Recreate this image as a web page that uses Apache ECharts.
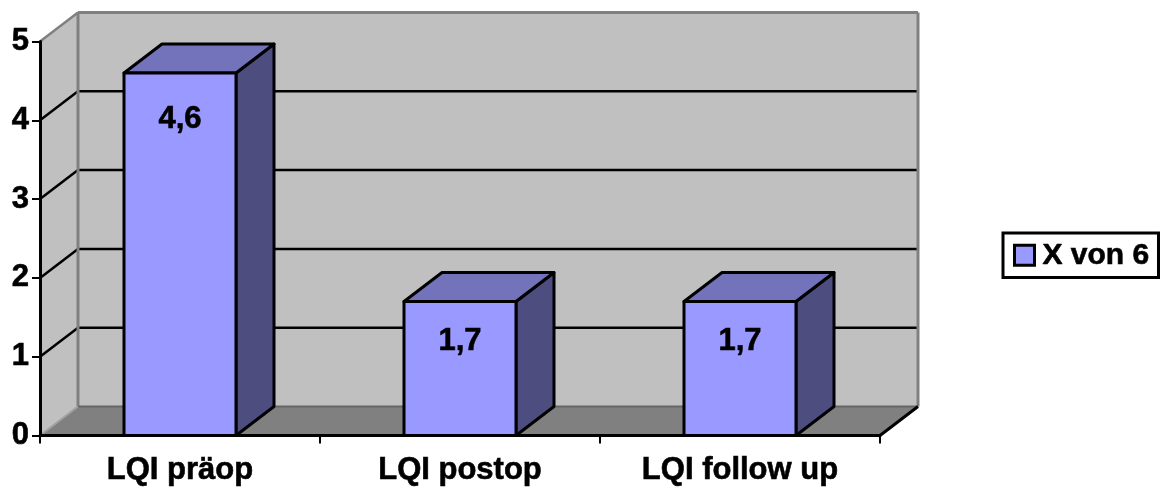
<!DOCTYPE html>
<html><head><meta charset="utf-8">
<style>html,body{margin:0;padding:0;background:#fff}#c{width:1169px;height:489px}</style>
<script src="https://cdn.jsdelivr.net/npm/echarts@6/dist/echarts.min.js"></script>
</head><body><div id="c"></div>
<script>
const categories = ['LQI präop', 'LQI postop', 'LQI follow up'];
const seriesName = 'X von 6';
const values = [4.6, 1.7, 1.7];
const yTicks = [0, 1, 2, 3, 4, 5];

const FONT = '"Liberation Sans", Arial, sans-serif';
const DX = 38, DY = -29;
const chart = echarts.init(document.getElementById('c'), null, {renderer: 'canvas'});
const heavy = {textBorderColor: '#000', textBorderWidth: 0.6};

function wallsItem(params, api) {
  const band = api.size([1, 0])[0];
  const c0 = api.coord([0, 0]);
  const top = api.coord([0, yTicks[yTicks.length - 1]])[1];
  const x0 = c0[0] - band / 2, y0 = c0[1];
  const x1 = x0 + band * categories.length;
  const poly = (points, fill) => ({type: 'polygon', shape: {points}, style: {fill, stroke: 'none'}});
  const line = (a, b, stroke, lineWidth) => ({
    type: 'line', shape: {x1: a[0], y1: a[1], x2: b[0], y2: b[1]}, style: {stroke, lineWidth}
  });
  const children = [
    poly([[x0 + DX, top + DY], [x1 + DX, top + DY], [x1 + DX, y0 + DY], [x0 + DX, y0 + DY]], '#c0c0c0'),
    poly([[x0, y0], [x0 + DX, y0 + DY], [x0 + DX, top + DY], [x0, top]], '#c0c0c0'),
    poly([[x0, y0], [x0 + DX, y0 + DY], [x1 + DX, y0 + DY], [x1, y0]], '#808080')
  ];
  yTicks.slice(1, -1).forEach(t => {
    const y = api.coord([0, t])[1];
    children.push(line([x0, y], [x0 + DX, y + DY], '#000', 2.5));
    children.push(line([x0 + DX, y + DY], [x1 + DX, y + DY], '#000', 2.5));
  });
  children.push(line([x0, top], [x0 + DX, top + DY], '#808080', 2.5));
  children.push(line([x0 + DX, top + DY], [x1 + DX, top + DY], '#808080', 3));
  children.push(line([x1 + DX, top + DY], [x1 + DX, y0 + DY], '#808080', 3));
  children.push(line([x0 + DX, top + DY], [x0 + DX, y0 + DY], '#808080', 3));
  children.push(line([x0 + DX, y0 + DY], [x1 + DX, y0 + DY], '#666666', 2));
  children.push(line([x0, y0], [x0 + DX, y0 + DY], '#a0a0a0', 2));
  children.push(line([x1, y0], [x1 + DX, y0 + DY], '#000', 3));
  return {type: 'group', children};
}

function barItem(params, api) {
  const band = api.size([1, 0])[0];
  const w = band / 2.5;
  const value = api.value(1);
  const c = api.coord([api.value(0), value]);
  const b = api.coord([api.value(0), 0]);
  const l = c[0] - w / 2, r = c[0] + w / 2, t = c[1], y0 = b[1];
  const st = fill => ({fill, stroke: '#000', lineWidth: 3, lineJoin: 'round'});
  return {type: 'group', children: [
    {type: 'polygon', shape: {points: [[r, t], [r + DX, t + DY], [r + DX, y0 + DY], [r, y0]]}, style: st('#4d4d80')},
    {type: 'polygon', shape: {points: [[l, t], [l + DX, t + DY], [r + DX, t + DY], [r, t]]}, style: st('#7373bb')},
    {type: 'rect', shape: {x: l, y: t, width: w, height: y0 - t}, style: st('#9999ff')},
    {type: 'text', x: c[0], y: t + 36 + 0.03 * (y0 - t), style: {
      text: String(value).replace('.', ','), fill: '#000', font: 'bold 31px ' + FONT,
      align: 'center', verticalAlign: 'middle', stroke: '#000', lineWidth: 0.6
    }}
  ]};
}

chart.setOption({
  animation: false,
  backgroundColor: '#fff',
  grid: {left: 40, right: 289, top: 41.5, bottom: 53.5, containLabel: false},
  legend: {
    data: [seriesName], left: 1003, top: 233, orient: 'horizontal',
    padding: [7, 9, 7, 10], itemWidth: 20, itemHeight: 20, itemGap: 0,
    icon: 'rect', borderColor: '#000', borderWidth: 3, backgroundColor: '#fff', borderRadius: 0,
    itemStyle: {borderColor: '#000', borderWidth: 3},
    textStyle: Object.assign({fontFamily: FONT, fontWeight: 'bold', fontSize: 30, color: '#000', padding: [0, 0, 0, 3]}, heavy)
  },
  xAxis: {
    type: 'category', data: categories, z: 10,
    axisLine: {lineStyle: {color: '#000', width: 3}},
    axisTick: {show: true, alignWithLabel: false, length: 8, lineStyle: {color: '#000', width: 2}},
    axisLabel: Object.assign({fontFamily: FONT, fontWeight: 'bold', fontSize: 31, color: '#000', margin: 19, interval: 0}, heavy),
    splitLine: {show: false}
  },
  yAxis: {
    type: 'value', min: 0, max: 5, interval: 1, z: 10,
    axisLine: {show: true, lineStyle: {color: '#000', width: 3}},
    axisTick: {show: true, length: 8, lineStyle: {color: '#000', width: 2}},
    axisLabel: Object.assign({fontFamily: FONT, fontWeight: 'bold', fontSize: 31, color: '#000', margin: 11, padding: [2, 0, 0, 0]}, heavy),
    splitLine: {show: false}
  },
  series: [
    {name: 'walls', type: 'custom', renderItem: wallsItem, data: [[0, 0]], clip: false, silent: true, z: 1},
    {name: seriesName, type: 'custom', renderItem: barItem, data: values.map((v, i) => [i, v]),
     encode: {x: 0, y: 1}, clip: false, itemStyle: {color: '#9999ff'}, z: 2}
  ]
});
</script></body></html>
